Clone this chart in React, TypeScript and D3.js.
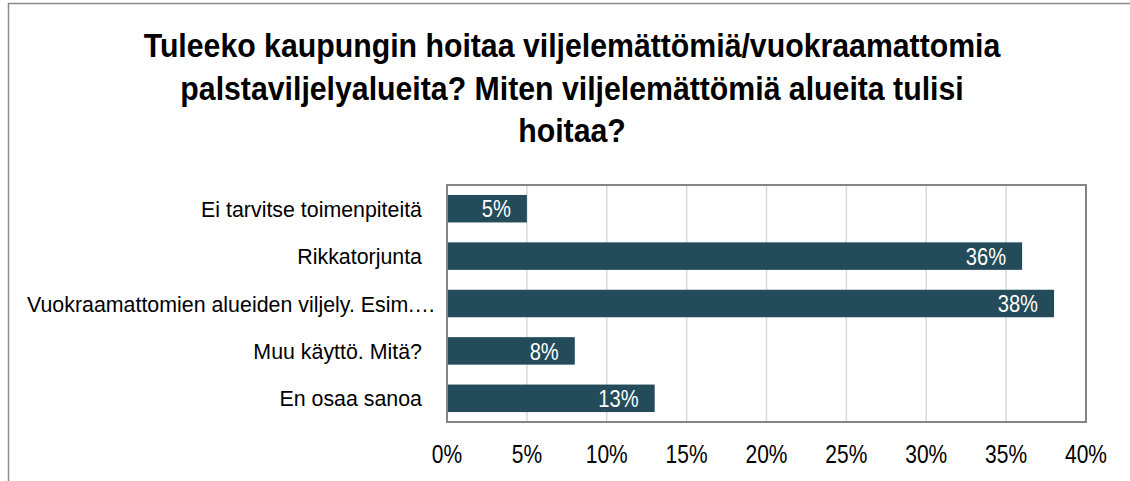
import * as d3 from 'd3'

const titleLines = [
  'Tuleeko kaupungin hoitaa viljelemättömiä/vuokraamattomia',
  'palstaviljelyalueita? Miten viljelemättömiä alueita tulisi',
  'hoitaa?',
]
const categories = [
  'Ei tarvitse toimenpiteitä',
  'Rikkatorjunta',
  'Vuokraamattomien alueiden viljely. Esim.…',
  'Muu käyttö. Mitä?',
  'En osaa sanoa',
]
const values = [5, 36, 38, 8, 13]
const ticks = [0, 5, 10, 15, 20, 25, 30, 35, 40]

const width = 1130
const height = 481
const plotLeft = 447
const plotRight = 1086
const plotTop = 185
const plotBottom = 422
const barColor = '#234b59'
const font = 'Arial, "Liberation Sans", sans-serif'

function SText({ x, y, s, size, anchor, weight, fill, dy, children }: {
  x: number; y: number; s: number; size: number; anchor: string
  weight?: string; fill?: string; dy?: string; children: string
}) {
  return (
    <text
      transform={`translate(${x},${y}) scale(${s},1)`}
      textAnchor={anchor}
      fontSize={size}
      fontWeight={weight || 'normal'}
      fill={fill || '#000'}
      fontFamily={font}
      dy={dy}
    >
      {children}
    </text>
  )
}

export default function App() {
  const x = d3.scaleLinear([0, 40], [plotLeft, plotRight])
  const y = d3
    .scaleBand<string>()
    .domain(categories)
    .range([plotTop, plotBottom])
    .paddingInner(0.42)
    .paddingOuter(0.21)

  return (
    <svg
      width={width}
      height={height}
      style={{ position: 'absolute', left: 0, top: 0, background: '#fff' }}
    >
      <rect x={8.5} y={3.5} width={1300} height={700} fill="#fff" stroke="#8c8c8c" strokeWidth={1.5} />

      {titleLines.map((line, i) => (
        <SText key={i} x={572} y={57 + i * 42.5} s={0.89} size={34} anchor="middle" weight="bold">
          {line}
        </SText>
      ))}

      <g>
        {ticks.slice(1).map((t) => (
          <line key={t} x1={x(t)} x2={x(t)} y1={plotTop} y2={plotBottom} stroke="#d9d9d9" strokeWidth={1.5} />
        ))}
      </g>

      <g>
        {categories.map((c, i) => (
          <rect key={c} x={x(0)} y={y(c)!} width={x(values[i]) - x(0)} height={y.bandwidth()} fill={barColor} />
        ))}
      </g>

      <rect
        x={plotLeft}
        y={plotTop}
        width={plotRight - plotLeft}
        height={plotBottom - plotTop}
        fill="none"
        stroke="#858585"
        strokeWidth={2}
      />

      <g>
        {categories.map((c, i) => (
          <SText
            key={c}
            x={x(values[i]) - 16}
            y={y(c)! + y.bandwidth() / 2}
            s={0.84}
            size={24}
            anchor="end"
            fill="#fff"
            dy="0.36em"
          >
            {`${values[i]}%`}
          </SText>
        ))}
      </g>

      <g>
        {categories.map((c) => {
          const overflow = c.endsWith('…')
          return (
            <SText
              key={c}
              x={overflow ? 27 : 422}
              y={y(c)! + y.bandwidth() / 2}
              s={0.95}
              size={22.5}
              anchor={overflow ? 'start' : 'end'}
              dy="0.36em"
            >
              {c}
            </SText>
          )
        })}
      </g>

      <g>
        {ticks.map((t) => (
          <SText key={t} x={x(t)} y={463} s={0.84} size={25} anchor="middle">
            {`${t}%`}
          </SText>
        ))}
      </g>
    </svg>
  )
}
